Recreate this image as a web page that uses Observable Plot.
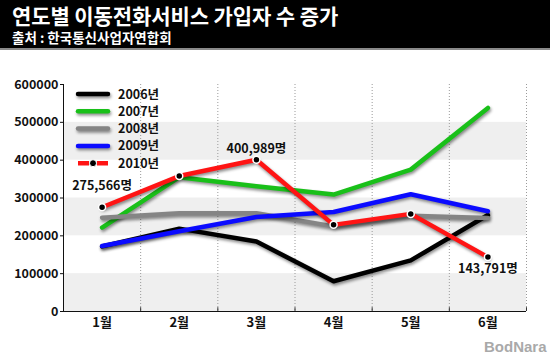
<!DOCTYPE html>
<html><head><meta charset="utf-8">
<script src="https://cdn.jsdelivr.net/npm/d3@7"></script>
<script src="https://cdn.jsdelivr.net/npm/@observablehq/plot@0.6"></script>
<style>
body{margin:0;background:#fff;font-family:"Noto Sans CJK KR","Noto Sans",sans-serif;}
#wrap{position:relative;width:550px;height:360px;overflow:hidden;}
#hdr{background:#000;height:48px;border-bottom:2px solid #8a8a8a;color:#fff;padding-left:12px;box-sizing:content-box;overflow:hidden;}
#t{font-size:21px;font-weight:bold;line-height:21px;padding-top:5px;letter-spacing:-0.1px;}
#s{font-size:13.5px;font-weight:bold;line-height:14px;margin-top:4px;}
#legend{position:absolute;left:70px;top:84px;}
#wm{position:absolute;left:484px;top:338px;font-size:15px;font-weight:bold;color:#a9a9a9;font-family:"Liberation Sans",Arial,sans-serif;}
</style></head>
<body>
<div id="wrap">
  <div id="hdr"><div id="t">연도별 이동전화서비스 가입자 수 증가</div><div id="s">출처 : 한국통신사업자연합회</div></div>
  <div id="plot"></div>
  <div id="legend"></div>
  <div id="wm">BodNara</div>
</div>
<script>
const months = ["1월","2월","3월","4월","5월","6월"];
const years = ["2006년","2007년","2008년","2009년","2010년"];
const v2006 = [172000, 219000, 185000, 80000, 135000, 255000];
const v2007 = [222000, 355000, 331000, 309000, 375000, 538000];
const v2008 = [248000, 260000, 260000, 225000, 253000, 247000];
const v2009 = [173000, 212000, 250000, 263000, 310000, 265000];
const v2010 = [275566, 358000, 400989, 229000, 258000, 143791];
const colors = ["#000000", "#19c019", "#858585", "#0b0bff", "#ff1414"];
const yTicks = [0, 100000, 200000, 300000, 400000, 500000, 600000];
const bands = [[0, 100000], [200000, 300000], [400000, 500000]];
const calloutIdx = [0, 2, 5];

const series = [v2006, v2007, v2008, v2009, v2010];
const rows = series.flatMap((vals, s) => vals.map((v, i) => ({year: years[s], m: i + 1, v})));
const red = rows.filter(r => r.year === years[4]);
const monthIdx = months.map((_, i) => i + 1);
const bounds = months.map((_, i) => i + 1.5);
const fmt = d => d3.format(",")(d.v) + "명";
const c = i => red[calloutIdx[i]];

const chart = Plot.plot({
  width: 550, height: 310,
  marginTop: 34, marginBottom: 49, marginLeft: 63, marginRight: 24,
  style: {fontFamily: '"Noto Sans CJK KR", "Noto Sans", sans-serif', background: "transparent", fontWeight: "bold", color: "#111"},
  x: {type: "linear", domain: [0.5, 6.5], label: null},
  y: {domain: [0, 600000], label: null},
  color: {domain: years, range: colors},
  marks: [
    Plot.rect(bands, {y1: d => d[0], y2: d => d[1], fill: "#efefef"}),
    Plot.ruleX(bounds, {stroke: "#9a9a9a", strokeDasharray: "1,2"}),
    Plot.ruleX(bounds, {y1: 0, y2: 10000, stroke: "#333"}),
    Plot.axisY({ticks: yTicks, tickFormat: d => String(d), tickSize: 3, tickPadding: 2, fontSize: 12.5, label: null}),
    Plot.axisX({ticks: monthIdx, tickFormat: i => months[i - 1], tickSize: 0, tickPadding: 6, fontSize: 13, label: null}),
    Plot.ruleX([0.5], {stroke: "#111"}),
    Plot.ruleY([0], {stroke: "#111"}),
    Plot.line(rows, {x: "m", y: "v", z: "year", stroke: "year", strokeWidth: 4.5}),
    Plot.dot(red, {x: "m", y: "v", r: 3.5, fill: "#000", stroke: "#fff", strokeWidth: 1.5}),
    Plot.text([c(0)], {x: "m", y: "v", text: fmt, dy: -21, fontSize: 12.5, fill: "#111"}),
    Plot.text([c(1)], {x: "m", y: "v", text: fmt, dy: -11, fontSize: 12.5, fill: "#111"}),
    Plot.text([c(2)], {x: "m", y: "v", text: fmt, dy: 12, fontSize: 12.5, fill: "#111"})
  ]
});
document.getElementById("plot").appendChild(chart);
d3.select(chart).selectAll('g[aria-label="line"] path')
  .style("filter", "drop-shadow(1px 2px 1.5px rgba(0,0,0,0.45))");

// legend
const lg = d3.select("#legend").append("svg").attr("width", 110).attr("height", 90);
years.forEach((y, i) => {
  const g = lg.append("g").attr("transform", `translate(0,${10 + i * 17.3})`);
  const ln = g.append("line").attr("x1", 8).attr("x2", 38).attr("y1", 0).attr("y2", 0)
    .attr("stroke", colors[i]).attr("stroke-width", 4.5).attr("stroke-linecap", "round");
  if (i === 4) {
    ln.attr("stroke-dasharray", "11,8").attr("stroke-linecap", "butt");
    g.append("circle").attr("cx", 23).attr("cy", 0).attr("r", 3.5).attr("fill", "#000").attr("stroke", "#fff").attr("stroke-width", 1);
  } else {
    ln.style("filter", "drop-shadow(1px 2px 1.5px rgba(0,0,0,0.45))");
  }
  g.append("text").attr("x", 48).attr("y", 0).attr("dy", "0.36em")
    .attr("font-size", 12.5).attr("font-weight", "bold").attr("fill", "#111")
    .attr("font-family", '"Noto Sans CJK KR", sans-serif').text(y);
});
</script>
</body></html>
